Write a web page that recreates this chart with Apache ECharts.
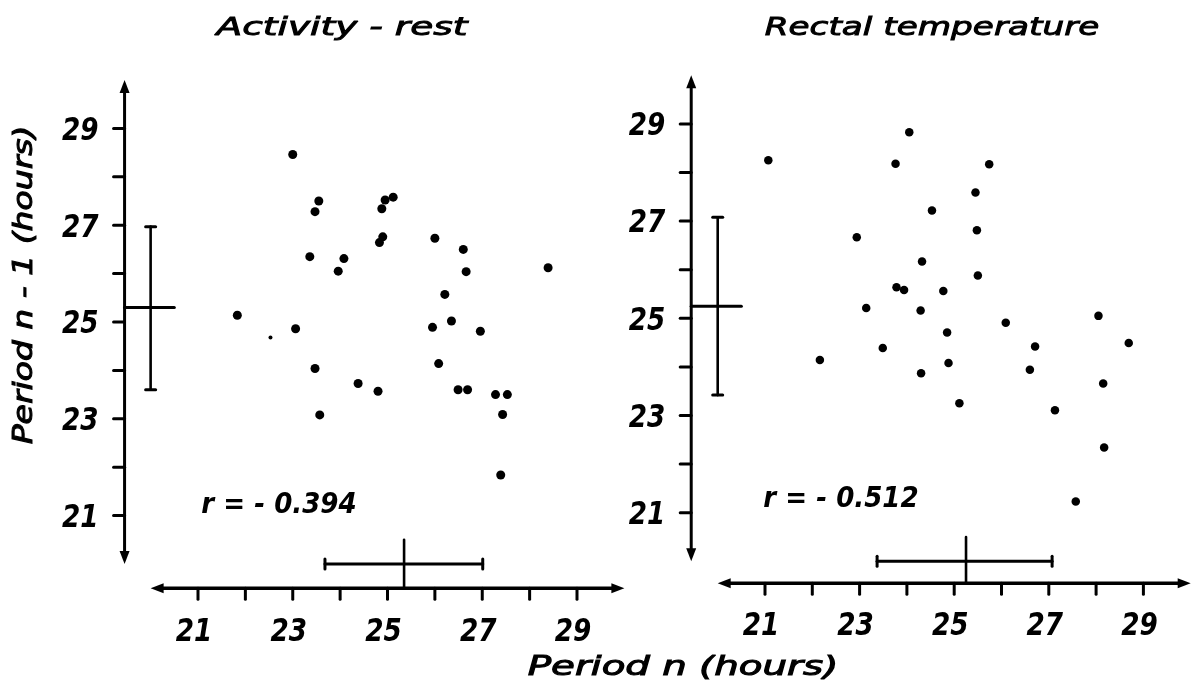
<!DOCTYPE html>
<html>
<head>
<meta charset="utf-8">
<title>Period n versus period n-1</title>
<script src="https://cdn.jsdelivr.net/npm/echarts@6/dist/echarts.min.js"></script>
<style>
  html, body { margin: 0; padding: 0; background: #fff; }
  #chart { width: 1193px; height: 692px; }
</style>
</head>
<body>
<div id="chart"></div>
<script>
// ---- data (hours) ----
const panelTitles = ['Activity - rest', 'Rectal temperature'];
const xAxisTitle = 'Period n (hours)';
const yAxisTitle = 'Period n - 1 (hours)';
const correlationLabels = ['r = - 0.394', 'r = - 0.512'];

const tickValues = [21, 22, 23, 24, 25, 26, 27, 28, 29];
const xTickLabels = ['21', '23', '25', '27', '29'];
const yTickLabels = ['21', '23', '25', '27', '29'];

// [period n, period n-1]
const activityPoints = [
  [23.00, 28.46], [23.55, 27.50], [23.47, 27.28], [24.95, 27.52], [25.12, 27.58],
  [24.88, 27.34], [24.90, 26.76], [24.83, 26.64], [23.36, 26.35], [24.08, 26.31],
  [23.96, 26.05], [26.00, 26.73], [26.60, 26.50], [26.66, 26.04], [28.39, 26.12],
  [26.21, 25.57], [21.83, 25.14], [23.06, 24.86], [25.95, 24.89], [26.35, 25.02],
  [26.96, 24.81], [23.47, 24.04], [24.38, 23.73], [24.80, 23.57], [26.08, 24.14],
  [26.49, 23.60], [26.69, 23.60], [27.28, 23.50], [27.53, 23.50], [27.43, 23.09],
  [23.57, 23.08], [27.39, 21.84]
];
const activityFaintPoints = [[22.53, 24.68]];

const rectalPoints = [
  [24.05, 28.83], [21.07, 28.25], [23.76, 28.18], [25.74, 28.17], [25.45, 27.59],
  [24.53, 27.22], [25.48, 26.81], [22.94, 26.67], [24.32, 26.17], [25.50, 25.88],
  [23.78, 25.64], [23.94, 25.58], [24.77, 25.56], [23.14, 25.21], [24.29, 25.16],
  [28.05, 25.05], [26.09, 24.91], [24.85, 24.71], [28.69, 24.49], [26.71, 24.42],
  [23.49, 24.39], [22.16, 24.14], [24.88, 24.08], [26.60, 23.94], [24.30, 23.87],
  [28.15, 23.66], [25.11, 23.25], [27.13, 23.11], [28.17, 22.34], [27.57, 21.23]
];

// mean and mean +/- SD of each period
const activityMean = [25.35, 25.30];
const activityRangeX = [23.68, 27.01];
const activityRangeY = [23.60, 26.97];
const rectalMean = [25.25, 25.25];
const rectalRangeX = [23.37, 27.07];
const rectalRangeY = [23.42, 27.08];

// ---- layout ----
const AX_MIN = 19, AX_MAX = 30.04;
const panels = [
  { // pixel anchors: value 21 and the per-hour step on each axis
    x21: 198, xStep: 47.375, y25: 322, yStep: 48.4,
    axisX: 19.45, axisY: 19.5, dot: 9,
    title: { x: 342, y: 28, sx: 1.5 }, r: { x: 279, y: 505 }
  },
  {
    x21: 765, xStep: 47.3, y25: 318.3, yStep: 48.6,
    axisX: 19.44, axisY: 19.55, dot: 8.5,
    title: { x: 932, y: 28, sx: 1.37 }, r: { x: 841, y: 499 }
  }
];

const W = 1193, H = 692;
const INK = '#000';
const FONT = '"DejaVu Sans", "Liberation Sans", sans-serif';

function gridFor(p) {
  const left = p.x21 + (AX_MIN - 21) * p.xStep;
  const right = p.x21 + (AX_MAX - 21) * p.xStep;
  const top = p.y25 - (AX_MAX - 25) * p.yStep;
  const bottom = p.y25 - (AX_MIN - 25) * p.yStep;
  return { left: left, top: top, width: right - left, height: bottom - top };
}

function seg(a, b, w) {
  return {
    type: 'line',
    shape: { x1: a[0], y1: a[1], x2: b[0], y2: b[1] },
    style: { stroke: INK, lineWidth: w, lineCap: 'round' }
  };
}

function arrow(tip, dx, dy) {
  // filled arrowhead pointing along (dx, dy)
  const L = 13, Wd = 5;
  const bx = tip[0] - dx * L, by = tip[1] - dy * L;
  return {
    type: 'polygon',
    shape: { points: [tip, [bx - dy * Wd, by + dx * Wd], [bx + dy * Wd, by - dx * Wd]] },
    style: { fill: INK }
  };
}

function label(text, x, y, font, align, sx, outline) {
  const style = {
    text: text, font: font, fill: INK,
    align: align, textAlign: align,
    verticalAlign: 'middle', textVerticalAlign: 'middle'
  };
  if (outline) {
    style.stroke = INK;
    style.lineWidth = outline;
  }
  return { type: 'text', x: x, y: y, scaleX: sx, style: style };
}

// axes with double arrows, ticks and tick labels
function frameRenderer(p) {
  return function (params, api) {
    const yb = api.coord([p.axisX, 20]);
    const yt = api.coord([p.axisX, 30]);
    const xl = api.coord([20, p.axisY]);
    const xr = api.coord([30, p.axisY]);
    const kids = [];
    kids.push(seg([yb[0], yb[1] - 10], [yt[0], yt[1] + 10], 3));
    kids.push(arrow(yt, 0, -1));
    kids.push(arrow(yb, 0, 1));
    kids.push(seg([xl[0] + 10, xl[1]], [xr[0] - 10, xr[1]], 3.5));
    kids.push(arrow(xl, -1, 0));
    kids.push(arrow(xr, 1, 0));
    const tickFont = 'italic bold 32px ' + FONT;
    tickValues.forEach(function (v) {
      const py = api.coord([p.axisX, v]);
      kids.push(seg([py[0] - 11, py[1]], [py[0], py[1]], 3));
      if (yTickLabels.indexOf(String(v)) >= 0) {
        kids.push(label(String(v), py[0] - 26, py[1] + 3, tickFont, 'right', 0.82));
      }
      const px = api.coord([v, p.axisY]);
      kids.push(seg([px[0], px[1]], [px[0], px[1] + 11], 3));
      if (xTickLabels.indexOf(String(v)) >= 0) {
        kids.push(label(String(v), px[0] - 4, px[1] + 44, tickFont, 'center', 0.82));
      }
    });
    return { type: 'group', children: kids };
  };
}

// mean +/- SD bars drawn next to each axis
function spreadRenderer(p) {
  return function (params, api) {
    const mx = api.value(0), my = api.value(1);
    const x0 = api.value(2), x1 = api.value(3);
    const y0 = api.value(4), y1 = api.value(5);
    const cap = 5, w = 2.6;
    const kids = [];
    // spread of period n-1 (vertical bar beside the y axis)
    const vb = api.coord([20, y0]), vt = api.coord([20, y1]);
    kids.push(seg(vb, vt, w));
    kids.push(seg([vb[0] - cap, vb[1]], [vb[0] + cap, vb[1]], 3));
    kids.push(seg([vt[0] - cap, vt[1]], [vt[0] + cap, vt[1]], 3));
    kids.push(seg(api.coord([p.axisX, my]), api.coord([20.5, my]), 3));
    // spread of period n (horizontal bar above the x axis)
    const hl = api.coord([x0, 20]), hr = api.coord([x1, 20]);
    kids.push(seg(hl, hr, 3));
    kids.push(seg([hl[0], hl[1] - cap], [hl[0], hl[1] + cap], 3));
    kids.push(seg([hr[0], hr[1] - cap], [hr[0], hr[1] + cap], 3));
    kids.push(seg(api.coord([mx, p.axisY]), api.coord([mx, 20.5]), 2.6));
    return { type: 'group', children: kids };
  };
}

const pointSets = [activityPoints, rectalPoints];
const spreads = [
  [activityMean[0], activityMean[1], activityRangeX[0], activityRangeX[1], activityRangeY[0], activityRangeY[1]],
  [rectalMean[0], rectalMean[1], rectalRangeX[0], rectalRangeX[1], rectalRangeY[0], rectalRangeY[1]]
];

const dotStyle = { color: INK, opacity: 1 };
const grids = [], xAxes = [], yAxes = [], series = [];
panels.forEach(function (p, i) {
  grids.push(gridFor(p));
  xAxes.push({ type: 'value', gridIndex: i, min: AX_MIN, max: AX_MAX, show: false });
  yAxes.push({ type: 'value', gridIndex: i, min: AX_MIN, max: AX_MAX, show: false });
  series.push({
    type: 'custom', xAxisIndex: i, yAxisIndex: i, silent: true,
    renderItem: frameRenderer(p), data: [[0]]
  });
  series.push({
    type: 'custom', xAxisIndex: i, yAxisIndex: i, silent: true,
    renderItem: spreadRenderer(p), data: [spreads[i]]
  });
  series.push({
    type: 'scatter', xAxisIndex: i, yAxisIndex: i, silent: true,
    symbol: 'circle', symbolSize: p.dot, itemStyle: dotStyle,
    data: pointSets[i]
  });
});
series.push({
  type: 'scatter', xAxisIndex: 0, yAxisIndex: 0, silent: true,
  symbol: 'circle', symbolSize: 4, itemStyle: dotStyle,
  data: activityFaintPoints
});

const graphics = [];
panels.forEach(function (p, i) {
  graphics.push(label(panelTitles[i], p.title.x, p.title.y, 'italic 25px ' + FONT, 'center', p.title.sx, 0.9));
  graphics.push(label(correlationLabels[i], p.r.x, p.r.y, 'italic bold 29px ' + FONT, 'center', 0.9));
});
graphics.push(label(xAxisTitle, 683, 668, 'italic 26px ' + FONT, 'center', 1.49, 1));
const yTitle = label(yAxisTitle, 25, 285, 'italic 26px ' + FONT, 'center', 1.27, 1);
yTitle.rotation = Math.PI / 2;
graphics.push(yTitle);

const chart = echarts.init(document.getElementById('chart'), null, { renderer: 'canvas', width: W, height: H });
chart.setOption({
  backgroundColor: '#fff',
  animation: false,
  grid: grids,
  xAxis: xAxes,
  yAxis: yAxes,
  series: series,
  graphic: graphics
});
</script>
</body>
</html>
